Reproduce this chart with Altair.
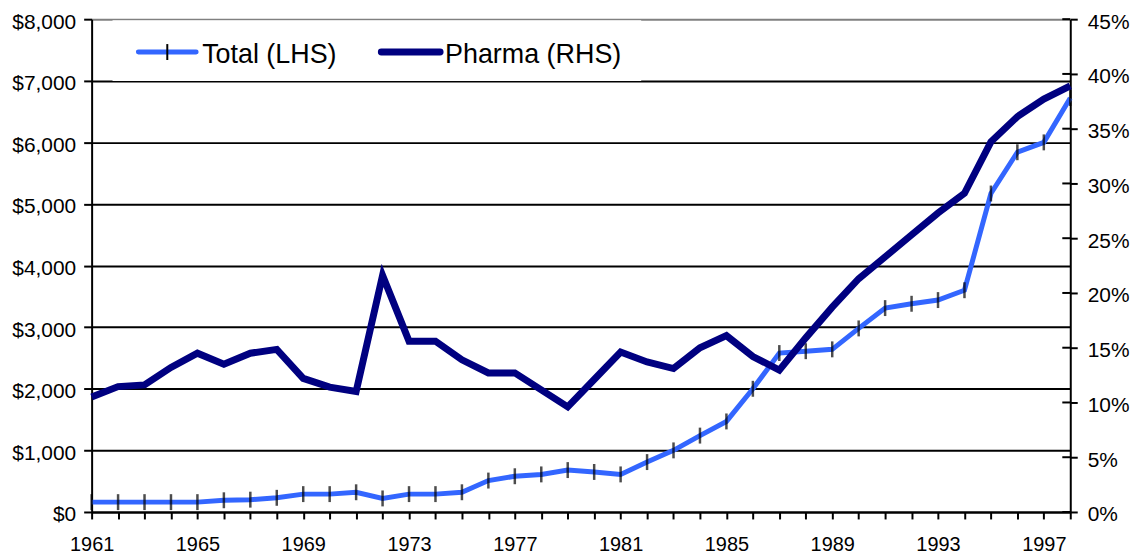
import altair as alt
import pandas as pd

years = list(range(1961, 1999))
total = [160, 160, 160, 160, 160, 190, 200, 230, 290, 290, 320, 220, 290, 290, 320,
         510, 580, 610, 680, 650, 610, 810, 1000, 1240, 1470, 2000, 2580, 2610, 2640,
         2980, 3310, 3380, 3440, 3600, 5170, 5840, 6000, 6720]
pharma = [10.5, 11.45, 11.6, 13.2, 14.5, 13.5, 14.5, 14.85, 12.2, 11.4, 11.0, 21.6,
          15.6, 15.6, 13.9, 12.7, 12.7, 11.15, 9.6, 12.1, 14.6, 13.7, 13.1, 15.0, 16.1,
          14.2, 12.95, 15.9, 18.7, 21.3, 23.3, 25.3, 27.3, 29.1, 33.8, 36.1, 37.7, 38.9]
left_ticks = list(range(0, 8001, 1000))
right_ticks = list(range(0, 46, 5))
series_names = ["Total (LHS)", "Pharma (RHS)"]

TOTAL_COLOR = "#3366FF"
PHARMA_COLOR = "#000080"
FONT = "Liberation Sans"

df = pd.DataFrame({"year": years, "total": total, "pharma": pharma})
rt = pd.DataFrame({"pct": right_ticks})

W, H = 983, 495

x_enc = alt.X(
    "year:Q",
    scale=alt.Scale(domain=[1961, 1998], nice=False, zero=False),
    axis=alt.Axis(
        values=years,
        labelExpr="(datum.value - 1961) % 4 == 0 ? '' + datum.value : ''",
        title=None,
        grid=False,
        tickSize=7,
        labelPadding=16,
        labelFontSize=20,
        labelFlush=False,
        labelOverlap=False,
    ),
)

y_left = alt.Y(
    "total:Q",
    scale=alt.Scale(domain=[0, 8000], nice=False),
    axis=alt.Axis(
        values=left_ticks,
        labelExpr="'$' + format(datum.value, ',')",
        title=None,
        grid=True,
        gridColor={"condition": {"test": "datum.value === 8000", "value": "#808080"}, "value": "black"},
        gridWidth=2,
        tickSize=8,
        labelPadding=8,
        labelFontSize=21,
        labelOffset=3,
    ),
)

y_right = alt.Y(
    "pct:Q",
    scale=alt.Scale(domain=[0, 45], nice=False),
    axis=alt.Axis(
        orient="right",
        values=right_ticks,
        labelExpr="datum.value + '%'",
        title=None,
        grid=False,
        tickSize=7,
        labelPadding=10,
        labelFontSize=21,
        labelOffset=3,
    ),
)

base = alt.Chart(df)

total_line = base.mark_line(color=TOTAL_COLOR, strokeWidth=5).encode(x=x_enc, y=y_left)
total_marks = base.mark_tick(orient="vertical", size=16, thickness=2.5, color="black").encode(
    x=x_enc, y=y_left
)
left_layer = alt.layer(total_line, total_marks)

inward_ticks = alt.Chart(rt).mark_rule(color="black", strokeWidth=2).encode(
    x=alt.value(W - 8), x2=alt.value(W), y=y_right
)
pharma_line = base.transform_calculate(pct="datum.pharma").mark_line(
    color=PHARMA_COLOR, strokeWidth=7
).encode(x=x_enc, y=y_right)
right_layer = alt.layer(inward_ticks, pharma_line)

leg_df = pd.DataFrame({"name": series_names})
legend_box = alt.Chart(leg_df).transform_filter("datum.name == 'Total (LHS)'").mark_rect(
    fill="white", stroke=None
).encode(x=alt.value(21), x2=alt.value(552), y=alt.value(1), y2=alt.value(62))
leg_total = alt.Chart(leg_df).transform_filter("datum.name == 'Total (LHS)'").mark_rule(
    color=TOTAL_COLOR, strokeWidth=5, strokeCap="round"
).encode(x=alt.value(47), x2=alt.value(105), y=alt.value(33))
leg_total_tick = alt.Chart(leg_df).transform_filter("datum.name == 'Total (LHS)'").mark_rule(
    color="black", strokeWidth=2
).encode(x=alt.value(76), y=alt.value(25), y2=alt.value(41))
leg_total_text = alt.Chart(leg_df).transform_filter("datum.name == 'Total (LHS)'").mark_text(
    align="left", baseline="middle", fontSize=27, font=FONT, color="black"
).encode(x=alt.value(111), y=alt.value(36), text="name:N")
leg_ph = alt.Chart(leg_df).transform_filter("datum.name == 'Pharma (RHS)'").mark_rule(
    color=PHARMA_COLOR, strokeWidth=7, strokeCap="round"
).encode(x=alt.value(291), x2=alt.value(350), y=alt.value(33))
leg_ph_text = alt.Chart(leg_df).transform_filter("datum.name == 'Pharma (RHS)'").mark_text(
    align="left", baseline="middle", fontSize=27, font=FONT, color="black"
).encode(x=alt.value(355), y=alt.value(36), text="name:N")

chart = (
    alt.layer(left_layer, right_layer, legend_box, leg_total, leg_total_tick, leg_total_text,
              leg_ph, leg_ph_text)
    .resolve_scale(y="independent")
    .properties(
        width=W,
        height=H,
        padding={"left": 84, "top": 10, "right": 60, "bottom": 46},
        autosize=alt.AutoSizeParams(type="none"),
        background="white",
    )
    .configure_view(stroke=None)
    .configure_axis(
        domainColor="black",
        domainWidth=2,
        tickColor="black",
        tickWidth=2,
        labelColor="black",
        labelFont=FONT,
    )
)

chart.save("out.html", embed_options={"renderer": "svg", "actions": False})
